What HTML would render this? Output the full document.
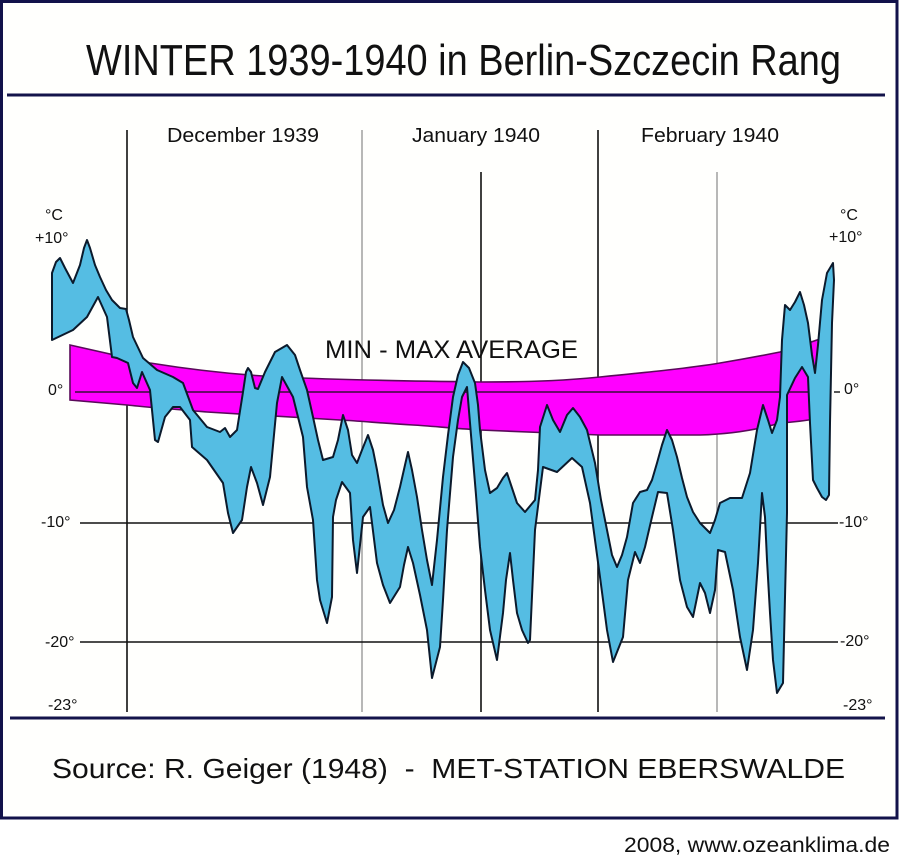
<!DOCTYPE html>
<html>
<head>
<meta charset="utf-8">
<style>
  html, body { margin: 0; padding: 0; background: #ffffff; }
  svg { display: block; }
  text { font-family: "Liberation Sans", Arial, sans-serif; fill: #111; }
</style>
</head>
<body>
<svg width="900" height="857" viewBox="0 0 900 857" xmlns="http://www.w3.org/2000/svg">
  <rect x="0" y="0" width="900" height="857" fill="#ffffff"/>
  <!-- frame -->
  <rect x="1.5" y="1.5" width="895.5" height="816.5" fill="#fffffd" stroke="#12124a" stroke-width="3"/>

  <!-- title -->
  <text x="86" y="75" font-size="44" textLength="755" lengthAdjust="spacingAndGlyphs">WINTER 1939-1940 in Berlin-Szczecin Rang</text>
  <line x1="7" y1="95" x2="885" y2="95" stroke="#14144a" stroke-width="3"/>

  <!-- month labels -->
  <text x="167" y="142" font-size="20" textLength="152" lengthAdjust="spacingAndGlyphs">December 1939</text>
  <text x="412" y="142" font-size="20" textLength="128" lengthAdjust="spacingAndGlyphs">January 1940</text>
  <text x="641" y="142" font-size="20" textLength="138" lengthAdjust="spacingAndGlyphs">February 1940</text>

  <!-- vertical lines -->
  <line x1="127" y1="130" x2="127" y2="712" stroke="#111" stroke-width="1.6"/>
  <line x1="362" y1="130" x2="362" y2="712" stroke="#999" stroke-width="1.4"/>
  <line x1="481" y1="172" x2="481" y2="712" stroke="#111" stroke-width="1.6"/>
  <line x1="598" y1="130" x2="598" y2="712" stroke="#111" stroke-width="1.6"/>
  <line x1="717" y1="172" x2="717" y2="712" stroke="#999" stroke-width="1.4"/>

  <!-- horizontal grid lines -->
  <line x1="80" y1="523" x2="838" y2="523" stroke="#111" stroke-width="1.6"/>
  <line x1="80" y1="642" x2="838" y2="642" stroke="#111" stroke-width="1.6"/>
  <line x1="834" y1="392" x2="840" y2="392" stroke="#111" stroke-width="1.4"/>

  <!-- magenta min-max average band -->
  <path d="M70,345 L150,363 C200,371 240,375 280,377 C340,380 400,381 480,382 C540,382 570,380 600,377 C650,372 690,368 720,363 C750,358 770,354 780,352 C795,348 808,343 820,339 L820,418 C805,421 795,422 780,423 C760,429 735,434 700,435 L600,435 C560,433 520,432 480,430 C450,428 430,426 413,425 C380,423 360,421 340,420 C290,417 240,414 207,412 C170,409 145,407 127,405 L70,400 Z"
        fill="#ff00ff" stroke="#5a0a5a" stroke-width="1.6"/>
  <line x1="75" y1="392" x2="820" y2="392" stroke="#6a0a6a" stroke-width="2"/>

  <text x="325" y="358" font-size="25" textLength="253" lengthAdjust="spacingAndGlyphs">MIN - MAX AVERAGE</text>

  <!-- blue temperature band -->
  <polygon fill="#55bde3" stroke="#0b1a2c" stroke-width="2" stroke-linejoin="round" points="
    52,273 56,262 60,258 65,268 73,283 80,265 84,248 87,240 90,248 95,265 100,277 106,290 112,300 120,308 126,309 129,320 133,337 143,358 157,370 173,377 183,383 193,410 207,427 220,432 225,428 230,437 237,430 243,392 246,372 248,368 251,372 255,388 258,389 265,372 275,352 287,345 295,355 300,370 307,390 313,417 318,440 323,460 333,457 338,440 343,415 348,430 352,455 357,463 362,450 368,435 373,450 377,470 383,505 388,523 394,510 400,487 405,465 408,452 412,470 417,497 422,530 427,560 432,585 437,540 443,477 448,435 453,397 458,375 463,362 469,368 475,383 478,405 480,430 485,470 490,493 497,488 503,478 507,473 511,485 517,503 525,512 535,500 538,470 540,427 547,405 553,420 560,432 567,415 573,408 580,417 587,430 595,463 601,500 607,530 612,555 617,567 622,555 627,537 633,503 640,492 647,490 652,480 657,463 662,445 667,430 672,440 677,457 682,478 687,497 693,512 700,523 710,533 715,520 720,503 730,498 742,498 750,473 757,430 763,405 768,420 772,433 777,420 780,397 782,340 785,305 790,310 795,302 800,292 804,305 808,323 812,355 815,373 818,345 822,300 827,273 833,263 834,280
    832,323 830,423 829,495 826,500
    822,497 817,488 813,480 810,423 808,377 802,367 795,378 787,395 787,430 787,513 785,597 783,683 777,693 773,660 770,613 767,560 765,517 762,493 758,563 753,630 747,670 740,637 733,590 725,552 718,550 715,590 710,613 705,593 700,583 693,617 687,607 680,580 673,530 667,493 658,492 652,517 645,547 640,563 635,552 628,580 623,637 613,662 607,630 600,577 590,503 582,467 572,458 557,472 543,467 535,530 530,640 528,643 522,630 517,613 513,580 510,553 506,580 503,613 497,660 490,630 485,590 480,547 476,495 472,447 467,387 462,397 458,420 453,457 447,530 443,600 440,647 432,678 427,630 420,595 413,563 408,547 404,565 400,587 390,603 383,585 377,563 370,507 363,517 357,573 353,540 350,493 342,482 336,500 333,517 332,597 327,623 320,600 317,580 313,520 307,487 303,437 293,397 282,377 277,403 270,477 263,505 257,483 251,467 247,487 242,520 233,533 228,513 223,483 207,460 192,447 190,420 180,407 173,407 165,417 158,442 155,440 150,390 142,372 137,388 133,383 128,363 117,358 112,357 107,317 98,297 87,317 73,330 52,340"/>

  <!-- left axis labels -->
  <text x="45" y="220" font-size="16">°C</text>
  <text x="35" y="243" font-size="16">+10°</text>
  <text x="48" y="395" font-size="16">0°</text>
  <text x="41" y="527" font-size="16">-10°</text>
  <text x="45" y="647" font-size="16">-20°</text>
  <text x="48" y="710" font-size="16">-23°</text>

  <!-- right axis labels -->
  <text x="840" y="220" font-size="16">°C</text>
  <text x="829" y="242" font-size="16">+10°</text>
  <text x="844" y="394" font-size="16">0°</text>
  <text x="839" y="527" font-size="16">-10°</text>
  <text x="840" y="646" font-size="16">-20°</text>
  <text x="843" y="710" font-size="16">-23°</text>

  <!-- bottom line -->
  <line x1="10" y1="718" x2="885" y2="718" stroke="#14144a" stroke-width="3"/>

  <!-- source -->
  <text x="52" y="778" font-size="28" textLength="793" lengthAdjust="spacingAndGlyphs" xml:space="preserve">Source: R. Geiger (1948)  -  MET-STATION EBERSWALDE</text>

  <!-- footer -->
  <text x="624" y="852" font-size="21" textLength="266" lengthAdjust="spacingAndGlyphs">2008, www.ozeanklima.de</text>
</svg>
</body>
</html>
